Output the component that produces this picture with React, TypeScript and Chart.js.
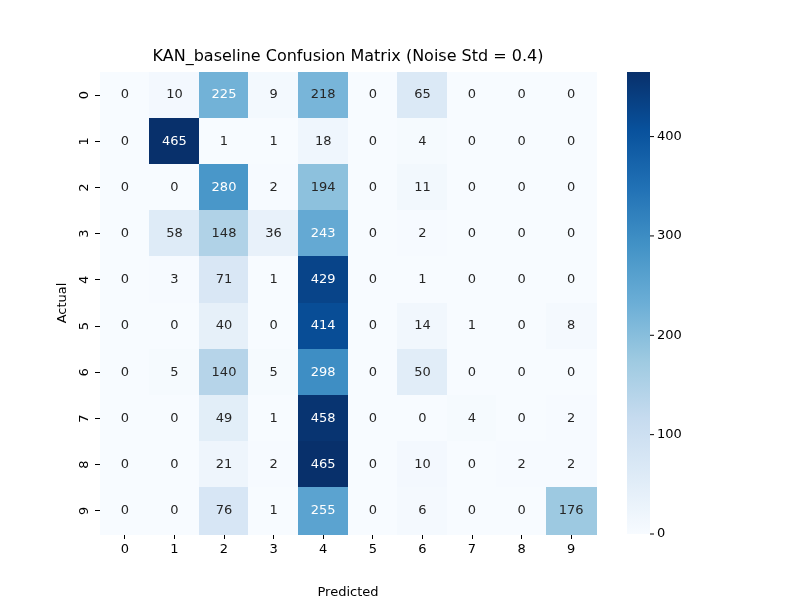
import { useEffect, useRef } from 'react';
import { Chart, registerables, Plugin } from 'chart.js';

Chart.register(...registerables);

const classes = ['0', '1', '2', '3', '4', '5', '6', '7', '8', '9'];
const matrix: number[][] = [
  [0, 10, 225, 9, 218, 0, 65, 0, 0, 0],
  [0, 465, 1, 1, 18, 0, 4, 0, 0, 0],
  [0, 0, 280, 2, 194, 0, 11, 0, 0, 0],
  [0, 58, 148, 36, 243, 0, 2, 0, 0, 0],
  [0, 3, 71, 1, 429, 0, 1, 0, 0, 0],
  [0, 0, 40, 0, 414, 0, 14, 1, 0, 8],
  [0, 5, 140, 5, 298, 0, 50, 0, 0, 0],
  [0, 0, 49, 1, 458, 0, 0, 4, 0, 2],
  [0, 0, 21, 2, 465, 0, 10, 0, 2, 2],
  [0, 0, 76, 1, 255, 0, 6, 0, 0, 176],
];
const colorbarTicks = [0, 100, 200, 300, 400];
const title = 'KAN_baseline Confusion Matrix (Noise Std = 0.4)';

const blues = ['#f7fbff', '#deebf7', '#c6dbef', '#9ecae1', '#6baed6', '#4292c6', '#2171b5', '#08519c', '#08306b'];
const hex = (h: string) => [1, 3, 5].map(i => parseInt(h.slice(i, i + 2), 16));
const vmax = Math.max(...matrix.flat());

function rgbFor(v: number): number[] {
  const t = Math.min(1, Math.max(0, v / vmax)) * (blues.length - 1);
  const i = Math.min(blues.length - 2, Math.floor(t));
  const f = t - i;
  const a = hex(blues[i]);
  const b = hex(blues[i + 1]);
  return a.map((c, k) => Math.round(c + (b[k] - c) * f));
}
function luminance(rgb: number[]) {
  const l = rgb.map(c => {
    const s = c / 255;
    return s <= 0.03928 ? s / 12.92 : Math.pow((s + 0.055) / 1.055, 2.4);
  });
  return 0.2126 * l[0] + 0.7152 * l[1] + 0.0722 * l[2];
}

const FONT = '13px "DejaVu Sans"';

const heatmap: Plugin = {
  id: 'heatmap',
  beforeDatasetsDraw(chart) {
    const { ctx, scales, chartArea } = chart;
    const x = scales.x;
    const y = scales.y;
    ctx.save();
    matrix.forEach((row, r) => {
      row.forEach((v, c) => {
        const x0 = x.getPixelForValue(c - 0.5);
        const x1 = x.getPixelForValue(c + 0.5);
        const y0 = y.getPixelForValue(r - 0.5);
        const y1 = y.getPixelForValue(r + 0.5);
        const rgb = rgbFor(v);
        ctx.fillStyle = `rgb(${rgb.join(',')})`;
        ctx.fillRect(Math.floor(x0), Math.floor(y0), Math.ceil(x1 - x0) + 1, Math.ceil(y1 - y0) + 1);
        ctx.fillStyle = luminance(rgb) > 0.408 ? '#262626' : '#ffffff';
        ctx.font = FONT;
        ctx.textAlign = 'center';
        ctx.textBaseline = 'middle';
        ctx.fillText(String(v), (x0 + x1) / 2, (y0 + y1) / 2);
      });
    });
    // rotated y tick labels
    ctx.fillStyle = '#000';
    classes.forEach((lab, r) => {
      const py = y.getPixelForValue(r);
      ctx.save();
      ctx.translate(chartArea.left - 15, py);
      ctx.rotate(-Math.PI / 2);
      ctx.fillText(lab, 0, 0);
      ctx.restore();
    });
    ctx.save();
    ctx.translate(63, (chartArea.top + chartArea.bottom) / 2);
    ctx.rotate(-Math.PI / 2);
    ctx.fillText('Actual', 0, 0);
    ctx.restore();
    // title
    ctx.font = '16px "DejaVu Sans"';
    ctx.fillText(title, (chartArea.left + chartArea.right) / 2, 57);
    // colorbar
    const cbL = 627, cbR = 650;
    const top = chartArea.top, bot = chartArea.bottom;
    const grad = ctx.createLinearGradient(0, bot, 0, top);
    blues.forEach((c, i) => grad.addColorStop(i / (blues.length - 1), c));
    ctx.fillStyle = grad;
    ctx.fillRect(cbL, top, cbR - cbL, bot - top);
    ctx.fillStyle = '#000';
    ctx.strokeStyle = '#000';
    ctx.lineWidth = 1;
    ctx.font = FONT;
    ctx.textAlign = 'left';
    colorbarTicks.forEach(t => {
      const py = bot - (t / vmax) * (bot - top);
      ctx.beginPath();
      ctx.moveTo(cbR, py);
      ctx.lineTo(cbR + 4, py);
      ctx.stroke();
      ctx.fillText(String(t), cbR + 7, py);
    });
    ctx.restore();
  },
};

export default function App() {
  const canvasRef = useRef<HTMLCanvasElement>(null);

  useEffect(() => {
    if (!canvasRef.current) return;
    const chart = new Chart(canvasRef.current, {
      type: 'scatter',
      data: { datasets: [{ data: [], pointRadius: 0 }] },
      options: {
        responsive: false,
        animation: false,
        layout: { padding: { top: 72, right: 204, left: 0, bottom: 0 } },
        plugins: { legend: { display: false }, tooltip: { enabled: false } },
        scales: {
          x: {
            type: 'linear',
            min: -0.5,
            max: 9.5,
            afterBuildTicks: s => { s.ticks = classes.map((_, i) => ({ value: i })); },
            afterFit: s => { s.height = 66; },
            ticks: { color: '#000', font: { family: 'DejaVu Sans', size: 13 }, callback: v => classes[Number(v)] ?? '' },
            grid: { drawOnChartArea: false, tickLength: 5, color: '#000' },
            border: { display: false },
            title: { display: true, text: 'Predicted', color: '#000', font: { family: 'DejaVu Sans', size: 13 }, padding: 0 },
          },
          y: {
            type: 'linear',
            min: -0.5,
            max: 9.5,
            reverse: true,
            afterBuildTicks: s => { s.ticks = classes.map((_, i) => ({ value: i })); },
            afterFit: s => { s.width = 100; },
            ticks: { display: false },
            grid: { drawOnChartArea: false, tickLength: 5, color: '#000' },
            border: { display: false },
          },
        },
      },
      plugins: [heatmap],
    });
    return () => chart.destroy();
  }, []);

  return (
    <div style={{ position: 'fixed', left: 0, top: 0, width: 800, height: 600, background: '#fff' }}>
      <canvas ref={canvasRef} width={800} height={600} />
    </div>
  );
}
